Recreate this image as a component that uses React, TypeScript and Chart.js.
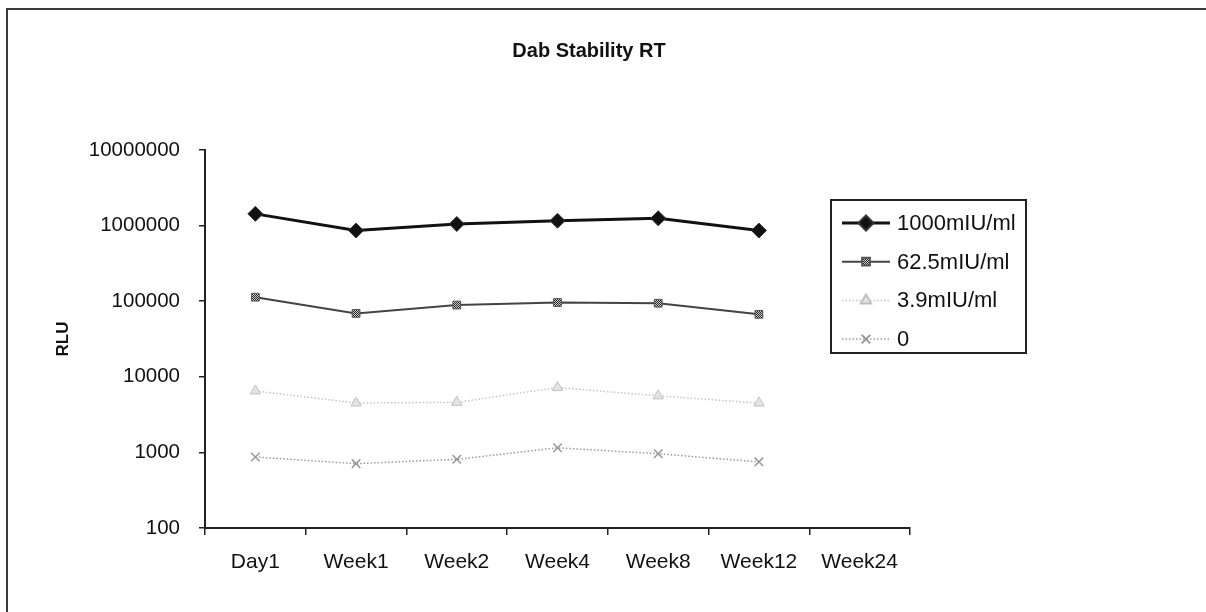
import React, { useEffect, useRef } from 'react';
import { Chart, registerables } from 'chart.js';
import { drawPoint } from 'chart.js/helpers';

Chart.register(...registerables);

// Time points on the x axis (Week24 has no readings yet)
const timepoints = ['Day1', 'Week1', 'Week2', 'Week4', 'Week8', 'Week12', 'Week24'];

// RLU readings per concentration
const rlu1000 = [1430000, 860000, 1050000, 1160000, 1250000, 860000, null];
const rlu62_5 = [113000, 69000, 89000, 96000, 94000, 67000, null];
const rlu3_9 = [6500, 4500, 4600, 7200, 5600, 4500, null];
const rlu0 = [870, 710, 810, 1150, 960, 750, null];

const seriesNames = ['1000mIU/ml', '62.5mIU/ml', '3.9mIU/ml', '0'];
const yTickValues = [100, 1000, 10000, 100000, 1000000, 10000000];

const chartTitle = 'Dab Stability RT';
const yAxisTitle = 'RLU';

const FONT = '"Liberation Sans", Arial, Helvetica, sans-serif';

function makeChecker(): CanvasPattern | string {
  const c = document.createElement('canvas');
  c.width = 2;
  c.height = 2;
  const g = c.getContext('2d');
  if (!g) return '#555';
  g.fillStyle = '#cfcfcf';
  g.fillRect(0, 0, 2, 2);
  g.fillStyle = '#222';
  g.fillRect(0, 0, 1, 1);
  g.fillRect(1, 1, 1, 1);
  const p = g.createPattern(c, 'repeat');
  return p || '#555';
}

const titlePlugin = {
  id: 'plainTitle',
  afterDraw(chart: any) {
    const ctx = chart.ctx;
    ctx.save();
    ctx.font = `bold 20px ${FONT}`;
    ctx.fillStyle = '#111';
    ctx.textAlign = 'center';
    ctx.textBaseline = 'middle';
    ctx.fillText(chartTitle, 589, 51);
    ctx.restore();
  },
};

const boxLegendPlugin = {
  id: 'boxLegend',
  afterDraw(chart: any) {
    const ctx = chart.ctx;
    const left = 831;
    const top = 200;
    const width = 195;
    const height = 153;
    ctx.save();
    ctx.fillStyle = '#fff';
    ctx.fillRect(left, top, width, height);
    ctx.strokeStyle = '#222';
    ctx.lineWidth = 2;
    ctx.strokeRect(left, top, width, height);
    chart.data.datasets.forEach((ds: any, i: number) => {
      const y = top + 23 + i * 38.7;
      ctx.save();
      ctx.strokeStyle = ds.borderColor;
      ctx.lineWidth = ds.borderWidth;
      ctx.setLineDash(ds.borderDash || []);
      ctx.beginPath();
      ctx.moveTo(842, y);
      ctx.lineTo(890, y);
      ctx.stroke();
      ctx.restore();
      ctx.save();
      ctx.fillStyle = ds.pointBackgroundColor;
      ctx.strokeStyle = ds.pointBorderColor;
      drawPoint(ctx, {
        pointStyle: ds.pointStyle,
        radius: ds.pointRadius,
        rotation: 0,
        borderWidth: ds.pointBorderWidth,
      } as any, 866, y);
      ctx.restore();
      ctx.fillStyle = '#111';
      ctx.font = `22px ${FONT}`;
      ctx.textAlign = 'left';
      ctx.textBaseline = 'middle';
      ctx.fillText(ds.label, 897, y + 1);
    });
    ctx.restore();
  },
};

export default function App() {
  const canvasRef = useRef<HTMLCanvasElement | null>(null);

  useEffect(() => {
    const canvas = canvasRef.current;
    if (!canvas) return;
    const checker = makeChecker();

    const chart = new Chart(canvas, {
      type: 'line',
      data: {
        labels: timepoints,
        datasets: [
          {
            label: seriesNames[0],
            data: rlu1000,
            borderColor: '#111',
            borderWidth: 3,
            pointStyle: 'rectRot',
            pointRadius: 7.5,
            pointBackgroundColor: '#111',
            pointBorderColor: '#333',
            pointBorderWidth: 1,
          },
          {
            label: seriesNames[1],
            data: rlu62_5,
            borderColor: '#444',
            borderWidth: 2,
            pointStyle: 'rect',
            pointRadius: 5.5,
            pointBackgroundColor: checker,
            pointBorderColor: '#555',
            pointBorderWidth: 1,
          },
          {
            label: seriesNames[2],
            data: rlu3_9,
            borderColor: '#c4c4c4',
            borderWidth: 1.5,
            borderDash: [1.5, 2],
            pointStyle: 'triangle',
            pointRadius: 6,
            pointBackgroundColor: '#e4e4e4',
            pointBorderColor: '#c0c0c0',
            pointBorderWidth: 1,
          },
          {
            label: seriesNames[3],
            data: rlu0,
            borderColor: '#9a9a9a',
            borderWidth: 1.5,
            borderDash: [1.5, 2],
            pointStyle: 'crossRot',
            pointRadius: 6,
            pointBackgroundColor: '#999',
            pointBorderColor: '#999',
            pointBorderWidth: 1.5,
          },
        ],
      },
      options: {
        animation: false,
        responsive: false,
        maintainAspectRatio: false,
        spanGaps: false,
        layout: { padding: { top: 150, right: 296, bottom: 0, left: 0 } },
        plugins: {
          legend: { display: false },
          title: { display: false },
          tooltip: { enabled: false },
        },
        scales: {
          x: {
            type: 'category',
            offset: true,
            afterFit(scale: any) {
              scale.height = 84;
            },
            grid: {
              display: true,
              offset: true,
              drawOnChartArea: false,
              drawTicks: true,
              tickLength: 7,
              color: '#222',
              lineWidth: 1.5,
            },
            border: { display: true, color: '#222', width: 2 },
            ticks: {
              color: '#111',
              font: { family: FONT, size: 21 },
              padding: 15,
              maxRotation: 0,
              autoSkip: false,
            },
          },
          y: {
            type: 'logarithmic',
            min: 100,
            max: 10000000,
            afterFit(scale: any) {
              scale.width = 205;
            },
            afterBuildTicks(scale: any) {
              scale.ticks = yTickValues.map((v) => ({ value: v }));
            },
            grid: {
              display: true,
              drawOnChartArea: false,
              drawTicks: true,
              tickLength: 6,
              color: '#222',
              lineWidth: 1.5,
            },
            border: { display: true, color: '#222', width: 2 },
            ticks: {
              color: '#111',
              font: { family: FONT, size: 20.5 },
              padding: 19,
              callback: (v: any) => Number(v).toFixed(0),
            },
            title: {
              display: true,
              text: yAxisTitle,
              color: '#111',
              font: { family: FONT, size: 17, weight: 'bold' },
              padding: { top: 53, bottom: 0 },
            },
          },
        },
      },
      plugins: [titlePlugin, boxLegendPlugin],
    } as any);

    return () => chart.destroy();
  }, []);

  return (
    <div style={{ position: 'absolute', left: 0, top: 0, width: 1206, height: 612, background: '#fff' }}>
      <div
        style={{
          position: 'absolute',
          left: 6,
          top: 8,
          right: 0,
          bottom: 0,
          borderTop: '2px solid #3a3a3a',
          borderLeft: '2px solid #3a3a3a',
        }}
      />
      <canvas
        ref={canvasRef}
        width={1206}
        height={612}
        style={{ position: 'absolute', left: 0, top: 0, width: 1206, height: 612 }}
      />
    </div>
  );
}
